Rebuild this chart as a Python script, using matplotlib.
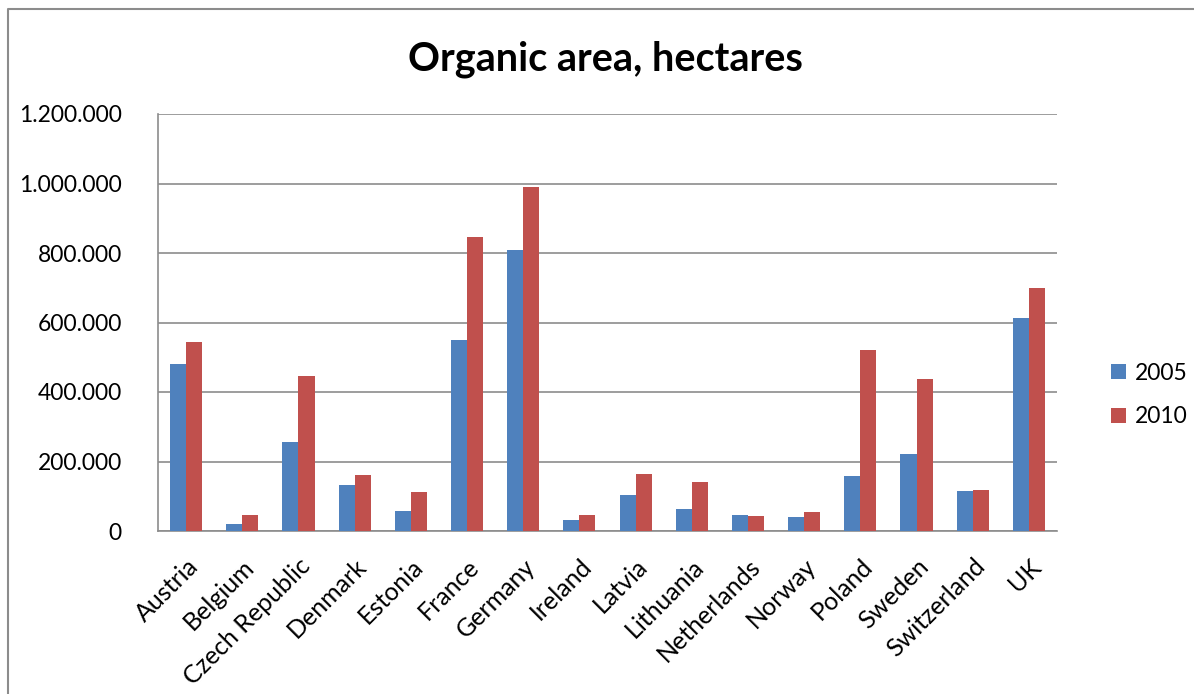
import matplotlib.pyplot as plt
from matplotlib.lines import Line2D
from matplotlib.ticker import FuncFormatter
import numpy as np

plt.rcParams['font.family'] = ['Lato', 'DejaVu Sans']

countries = ['Austria', 'Belgium', 'Czech Republic', 'Denmark', 'Estonia',
             'France', 'Germany', 'Ireland', 'Latvia', 'Lithuania',
             'Netherlands', 'Norway', 'Poland', 'Sweden', 'Switzerland', 'UK']
area2005 = [480000, 21000, 255000, 133000, 58000, 549000, 808000, 33000,
            103000, 63000, 47000, 41000, 159000, 221000, 116000, 612000]
area2010 = [543000, 46000, 447000, 161000, 111000, 846000, 989000, 45000,
            165000, 142000, 43000, 55000, 520000, 438000, 119000, 700000]
years = ['2005', '2010']

W, H = 1194, 694
fig = plt.figure(figsize=(W / 100, H / 100), dpi=100)

# chart frame (left and top edge visible)
fig.add_artist(Line2D([8 / W, 8 / W, 1], [0, 1 - 9 / H, 1 - 9 / H],
                      transform=fig.transFigure, color='#8c8c8c', lw=1.5))

left, right, top, bottom = 158, 1057, 114, 531
ax = fig.add_axes([left / W, (H - bottom) / H, (right - left) / W, (bottom - top) / H])

x = np.arange(len(countries))
w = 1 / 3.5  # excel gap width 150%
ax.bar(x - w / 2, area2005, w, color='#4f81bd', label=years[0], zorder=3)
ax.bar(x + w / 2, area2010, w, color='#c0504d', label=years[1], zorder=3)

ax.set_xlim(-0.5, len(countries) - 0.5)
ax.set_ylim(0, 1200000)
ax.set_yticks(np.arange(0, 1200001, 200000))
ax.yaxis.set_major_formatter(FuncFormatter(lambda v, p: f"{int(v):,}".replace(',', '.')))
ax.grid(axis='y', color='#8c8c8c', lw=1.2, zorder=0)
ax.set_axisbelow(True)

for s in ['top', 'right']:
    ax.spines[s].set_visible(False)
for s in ['left', 'bottom']:
    ax.spines[s].set_color('#8c8c8c')
    ax.spines[s].set_linewidth(1.2)

ax.tick_params(axis='y', length=0, pad=26, labelsize=16.5)
ax.tick_params(axis='x', length=0, pad=17)
ax.set_xticks(x)
ax.set_xticklabels(countries, rotation=45, ha='right', va='top',
                   rotation_mode='anchor', fontsize=18)

fig.text(605 / W, 1 - 70 / H, 'Organic area, hectares', ha='center',
         va='baseline', fontsize=28.5, fontweight='bold')

ax.legend(loc='center left', bbox_to_anchor=(1090 / W, (H - 395) / H),
          bbox_transform=fig.transFigure, frameon=False, fontsize=16.5,
          handlelength=0.65, handleheight=0.65, handletextpad=0.4, labelspacing=1.0)

fig.savefig('out.png', dpi=100)
